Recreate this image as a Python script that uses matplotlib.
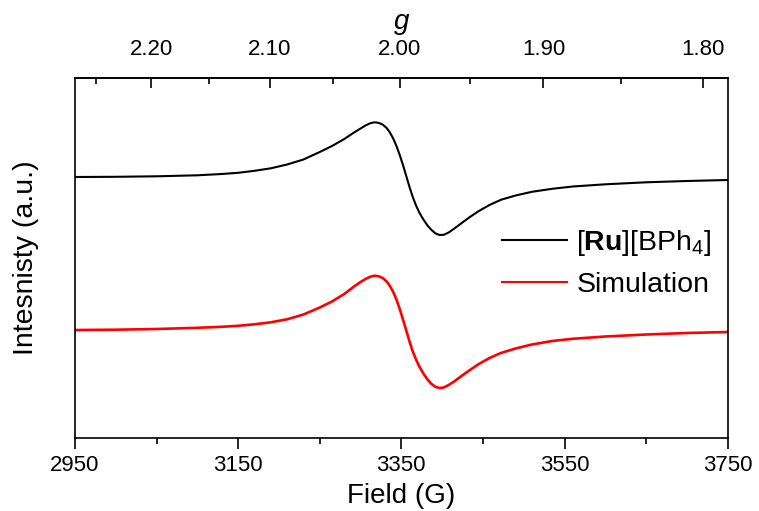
import numpy as np
import matplotlib
matplotlib.use("Agg")
import matplotlib.pyplot as plt
from matplotlib.ticker import FixedLocator, NullLocator

plt.rcParams['font.family'] = ['Liberation Sans', 'DejaVu Sans']
plt.rcParams['mathtext.fontset'] = 'custom'
plt.rcParams['mathtext.rm'] = 'Liberation Sans'
plt.rcParams['mathtext.bf'] = 'Liberation Sans:bold'
plt.rcParams['mathtext.it'] = 'Liberation Sans:italic'

# ---- data ----
# magnetic field (G)
field = [2950, 3000, 3050, 3100, 3130, 3150, 3170, 3190, 3210, 3230, 3250,
         3265, 3280, 3292, 3300, 3306, 3312, 3317, 3322, 3327, 3332, 3336,
         3340, 3344, 3348, 3352, 3356, 3360, 3364, 3368, 3372, 3377, 3382,
         3387, 3392, 3397, 3402, 3408, 3415, 3424, 3434, 3445, 3458, 3472,
         3490, 3510, 3535, 3560, 3600, 3650, 3700, 3750]

# experimental spectrum, [Ru][BPh4] (a.u.)
experiment = [2.613, 2.615, 2.620, 2.630, 2.643, 2.655, 2.675, 2.700, 2.738,
              2.788, 2.863, 2.923, 2.993, 3.058, 3.098, 3.128, 3.151, 3.160,
              3.155, 3.138, 3.103, 3.058, 2.998, 2.923, 2.833, 2.733, 2.623,
              2.513, 2.413, 2.328, 2.258, 2.188, 2.128, 2.083, 2.048, 2.033,
              2.035, 2.058, 2.098, 2.153, 2.213, 2.273, 2.333, 2.385, 2.428,
              2.465, 2.495, 2.518, 2.540, 2.560, 2.573, 2.583]

# simulated spectrum (a.u.)
simulation = [1.083, 1.086, 1.093, 1.105, 1.115, 1.125, 1.140, 1.160, 1.190,
              1.238, 1.308, 1.368, 1.443, 1.518, 1.563, 1.593, 1.616, 1.626,
              1.621, 1.603, 1.568, 1.523, 1.463, 1.388, 1.293, 1.188, 1.078,
              0.968, 0.868, 0.788, 0.718, 0.648, 0.588, 0.543, 0.513, 0.503,
              0.508, 0.533, 0.570, 0.625, 0.683, 0.743, 0.803, 0.853, 0.898,
              0.938, 0.973, 0.995, 1.018, 1.038, 1.053, 1.063]

field_ticks = [2950, 3150, 3350, 3550, 3750]
field_minor = [3050, 3250, 3450, 3650]
g_ticks = [2.20, 2.10, 2.00, 1.90, 1.80]
g_minor = [2.25, 2.15, 2.05, 1.95, 1.85]
G_CONST = 6696.0  # g * B (G), i.e. h*nu/mu_B
Y_MAX = 3.603

fig = plt.figure(figsize=(7.59, 5.11), dpi=100)
ax = fig.add_axes([75 / 759, 1 - 438.3 / 511, 652.7 / 759, (438.3 - 78) / 511])

ax.plot(field, experiment, color='black', lw=1.5, label=r'[$\mathbf{Ru}$][BPh$_4$]')
ax.plot(field, simulation, color='#ff0000', lw=1.9, label='Simulation')

ax.set_xlim(2950, 3750)
ax.set_ylim(0, Y_MAX)
ax.set_xticks(field_ticks)
ax.xaxis.set_minor_locator(FixedLocator(field_minor))
ax.tick_params(axis='x', which='major', direction='out', length=8, width=1.2,
               labelsize=16, pad=4)
ax.tick_params(axis='x', which='minor', direction='out', length=4, width=1.2)
ax.yaxis.set_major_locator(NullLocator())
ax.yaxis.set_minor_locator(NullLocator())
for s in ax.spines.values():
    s.set_linewidth(1.2)
ax.set_xlabel('Field (G)', fontsize=20, labelpad=5)
ax.set_ylabel('Intesnisty (a.u.)', fontsize=20.5, labelpad=26)


def b2g(b):
    b = np.asarray(b, dtype=float)
    with np.errstate(divide='ignore', invalid='ignore'):
        return G_CONST / np.where(b == 0, 1e-9, b)


def g2b(g):
    g = np.asarray(g, dtype=float)
    with np.errstate(divide='ignore', invalid='ignore'):
        return G_CONST / np.where(g == 0, 1e-9, g)


top = ax.secondary_xaxis('top', functions=(b2g, g2b))
top.set_xticks(g_ticks)
top.set_xticklabels([f'{v:.2f}' for v in g_ticks])
top.xaxis.set_minor_locator(FixedLocator(g_minor))
top.tick_params(axis='x', which='major', direction='in', length=7, width=1.2,
                labelsize=16, pad=13)
top.tick_params(axis='x', which='minor', direction='in', length=4, width=1.2)
top.set_xlabel('$\\it{g}$', fontsize=20, labelpad=7)
top.spines['top'].set_linewidth(1.2)

leg = ax.legend(loc='upper left', bbox_to_anchor=(0.654, 0.583), frameon=False,
                fontsize=20.5, handlelength=2.3, handletextpad=0.32,
                labelspacing=0.48, borderaxespad=0, borderpad=0)
for h in leg.get_lines():
    h.set_linewidth(1.5)

fig.savefig('out.png', dpi=100)
